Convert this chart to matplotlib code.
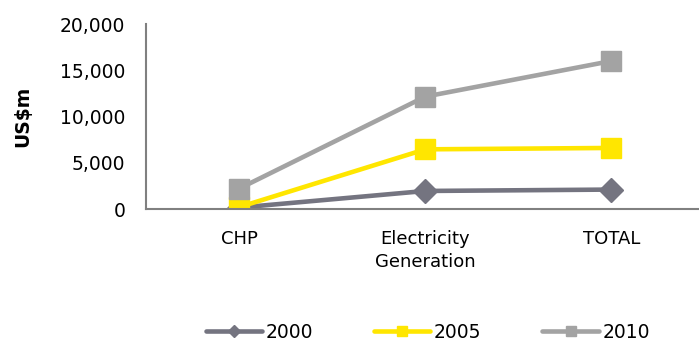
import matplotlib.pyplot as plt

categories = ['CHP', 'Electricity\nGeneration', 'TOTAL']
years = ['2000', '2005', '2010']
values_2000 = [150, 1950, 2100]
values_2005 = [200, 6450, 6600]
values_2010 = [2200, 12150, 16000]

plt.rcParams['font.family'] = ['DejaVu Sans']

fig = plt.figure(figsize=(6.99, 3.42), dpi=100)
ax = fig.add_axes([146 / 699, 1 - 209 / 342, (699 - 146) / 699, (209 - 24) / 342])

x = range(len(categories))
ax.plot(x, values_2000, color='#747480', lw=3.3, marker='D', ms=12,
        label=years[0], solid_capstyle='round')
ax.plot(x, values_2005, color='#FFE600', lw=3.3, marker='s', ms=14,
        label=years[1], solid_capstyle='round')
ax.plot(x, values_2010, color='#A3A3A3', lw=3.3, marker='s', ms=14,
        label=years[2], solid_capstyle='round')

ax.set_xlim(-0.5, 2.47)
ax.set_ylim(0, 20000)
ticks = [0, 5000, 10000, 15000, 20000]
ax.set_yticks(ticks)
ax.set_yticklabels(['{:,}'.format(v) for v in ticks], fontsize=13.5)
ax.set_xticks(list(x))
ax.set_xticklabels(categories, fontsize=13, linespacing=1.4)
ax.tick_params(axis='y', length=0, pad=15)
ax.tick_params(axis='x', length=0, pad=15)
for side in ['top', 'right']:
    ax.spines[side].set_visible(False)
for side in ['left', 'bottom']:
    ax.spines[side].set_color('#808080')
    ax.spines[side].set_linewidth(1.5)
ax.set_ylabel('US$m', fontsize=13.5, fontweight='bold')
ax.yaxis.set_label_coords(-0.205, 0.5)

fig.legend(loc='center', bbox_to_anchor=(0.612, 1 - 332 / 342), ncol=3, frameon=False,
           fontsize=13.5, handlelength=3.0, handletextpad=0.2, columnspacing=3.25,
           markerscale=0.55)

fig.savefig('out.png', dpi=100)
